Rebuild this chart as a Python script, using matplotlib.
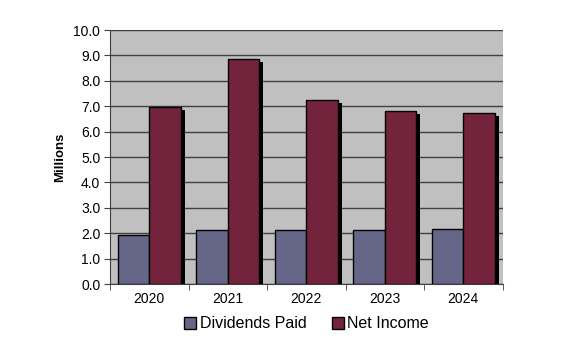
import matplotlib
matplotlib.use("Agg")
import matplotlib.pyplot as plt
import numpy as np
from matplotlib.patches import Patch

years = ["2020", "2021", "2022", "2023", "2024"]
dividends = [1.92, 2.13, 2.13, 2.11, 2.15]
net_income = [6.96, 8.87, 7.26, 6.82, 6.73]
series_names = ["Dividends Paid", "Net Income"]
colors = ["#666689", "#73243C"]

plt.rcParams['font.family'] = ['Liberation Sans', 'DejaVu Sans']

fig = plt.figure(figsize=(5.73, 3.56), dpi=100)
ax = fig.add_axes([0.192, 0.2022, 0.685, 0.7135])
ax.set_facecolor("#C0C0C0")

x = np.arange(len(years))
w = 0.4
sx, sy = 0.05, 0.12
for vals, off, c in [(dividends, -w/2, colors[0]), (net_income, w/2, colors[1])]:
    vals = np.array(vals)
    ax.bar(x + off + sx, vals - sy, width=w, color="black", zorder=2, linewidth=0)
for vals, off, c in [(dividends, -w/2, colors[0]), (net_income, w/2, colors[1])]:
    ax.bar(x + off, vals, width=w, color=c, edgecolor="black", linewidth=1.0, zorder=3)

ax.set_xlim(-0.5, len(years) - 0.5)
ax.set_ylim(0, 10)
ax.set_yticks(np.arange(0, 10.01, 1.0))
ax.set_yticklabels([f"{v:.1f}" for v in np.arange(0, 10.01, 1.0)], fontsize=10)
ax.yaxis.grid(True, color="#404040", linewidth=1.0, zorder=1)
ax.set_axisbelow(True)

ax.set_xticks(x)
ax.set_xticklabels(years, fontsize=10)
ax.tick_params(axis="x", length=0, pad=6)
ax.set_xticks(np.arange(-0.5, len(years)), minor=True)
ax.tick_params(axis="x", which="minor", length=4, color="#404040")
ax.tick_params(axis="y", length=4, color="#404040", pad=3)

for s in ["top", "right"]:
    ax.spines[s].set_visible(False)
ax.spines["left"].set_color("#404040")
ax.spines["bottom"].set_color("#404040")

ax.set_ylabel("Millions", fontsize=9.5, fontweight="bold", labelpad=5)

handles = [Patch(facecolor=colors[0], edgecolor="black", label=series_names[0]),
           Patch(facecolor=colors[1], edgecolor="black", label=series_names[1])]
fig.legend(handles=handles, loc="center", bbox_to_anchor=(0.535, 0.09), ncol=2,
           frameon=False, fontsize=11.5, handlelength=0.75, handleheight=0.75,
           handletextpad=0.2, columnspacing=1.6)

fig.savefig("out.png", dpi=100)
